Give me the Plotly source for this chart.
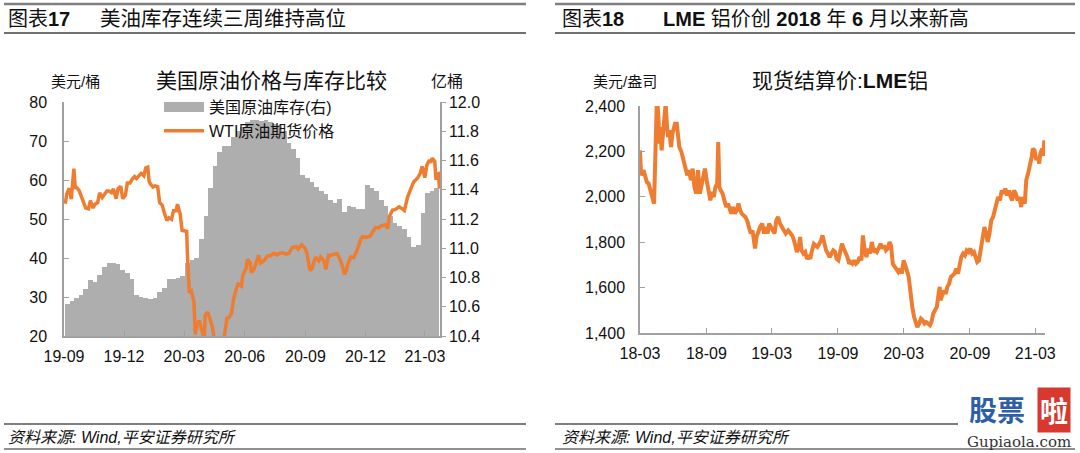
import plotly.graph_objects as go
import pandas as pd

W, H = 1080, 453

# ---------------- Left chart data ----------------
WTI_DATES = [
    "2019-09-03", "2019-09-05", "2019-09-09", "2019-09-12", "2019-09-16", "2019-09-18", "2019-09-20",
    "2019-09-24", "2019-09-26", "2019-09-30", "2019-10-02", "2019-10-04", "2019-10-08", "2019-10-11",
    "2019-10-15", "2019-10-18", "2019-10-22", "2019-10-25", "2019-10-29", "2019-11-01", "2019-11-05",
    "2019-11-08", "2019-11-12", "2019-11-15", "2019-11-19", "2019-11-22", "2019-11-26", "2019-11-29",
    "2019-12-03", "2019-12-06", "2019-12-10", "2019-12-13", "2019-12-17", "2019-12-20", "2019-12-24",
    "2019-12-27", "2019-12-31", "2020-01-03", "2020-01-06", "2020-01-08", "2020-01-10", "2020-01-14",
    "2020-01-17", "2020-01-21", "2020-01-24", "2020-01-28", "2020-01-31", "2020-02-04", "2020-02-07",
    "2020-02-11", "2020-02-14", "2020-02-18", "2020-02-20", "2020-02-24", "2020-02-27", "2020-03-02",
    "2020-03-05", "2020-03-06", "2020-03-09", "2020-03-12", "2020-03-16", "2020-03-18", "2020-03-20",
    "2020-03-24", "2020-03-27", "2020-03-30", "2020-04-01", "2020-04-02", "2020-04-06", "2020-04-08",
    "2020-04-13", "2020-04-15", "2020-04-17", "2020-04-20", "2020-04-22", "2020-04-24", "2020-04-28",
    "2020-05-01", "2020-05-05", "2020-05-08", "2020-05-12", "2020-05-15", "2020-05-19", "2020-05-22",
    "2020-05-27", "2020-05-29", "2020-06-03", "2020-06-05", "2020-06-09", "2020-06-11", "2020-06-15",
    "2020-06-18", "2020-06-22", "2020-06-25", "2020-06-30", "2020-07-06", "2020-07-10", "2020-07-15",
    "2020-07-20", "2020-07-24", "2020-07-29", "2020-08-03", "2020-08-07", "2020-08-12", "2020-08-18",
    "2020-08-21", "2020-08-26", "2020-08-31", "2020-09-03", "2020-09-08", "2020-09-11", "2020-09-16",
    "2020-09-21", "2020-09-24", "2020-09-29", "2020-10-02", "2020-10-06", "2020-10-09", "2020-10-14",
    "2020-10-19", "2020-10-23", "2020-10-28", "2020-10-30", "2020-11-02", "2020-11-05", "2020-11-09",
    "2020-11-13", "2020-11-18", "2020-11-24", "2020-11-27", "2020-12-02", "2020-12-08", "2020-12-11",
    "2020-12-16", "2020-12-21", "2020-12-24", "2020-12-31", "2021-01-04", "2021-01-06", "2021-01-11",
    "2021-01-15", "2021-01-21", "2021-01-26", "2021-01-29", "2021-02-03", "2021-02-08", "2021-02-12",
    "2021-02-18", "2021-02-22", "2021-02-25", "2021-03-01", "2021-03-04", "2021-03-08", "2021-03-10",
    "2021-03-12", "2021-03-16", "2021-03-18", "2021-03-19", "2021-03-22", "2021-03-23",
]
WTI_PRICE = [
    53.9, 56.3, 57.9, 55.1, 62.9, 58.1, 58.1,
    57.3, 56.4, 54.1, 53.6, 52.8, 52.6, 54.7,
    52.8, 53.8, 54.2, 56.7, 55.5, 56.2, 57.2,
    57.2, 56.8, 57.7, 55.2, 57.8, 58.4, 55.2,
    56.1, 59.2, 59.2, 60.1, 60.9, 60.4, 61.1,
    61.7, 61.1, 63.1, 63.3, 59.6, 59.0, 58.2,
    58.5, 58.3, 54.2, 53.5, 51.6, 49.6, 50.3,
    49.9, 52.1, 52.1, 53.8, 51.4, 47.1, 46.8,
    46.8, 41.3, 31.1, 31.5, 28.7, 20.4, 22.4,
    24.0, 21.5, 20.1, 20.3, 25.3, 26.1, 25.1,
    22.4, 19.9, 18.3, -37.6, 13.8, 16.9, 12.3,
    19.8, 24.6, 24.7, 25.8, 29.4, 32.0, 33.3,
    32.8, 35.5, 37.3, 39.6, 38.9, 36.3, 37.1,
    38.8, 40.7, 38.7, 39.3, 40.6, 40.6, 41.2,
    40.8, 41.3, 41.3, 41.0, 41.2, 42.7, 42.9,
    42.3, 43.4, 42.6, 41.4, 36.8, 37.3, 40.2,
    39.3, 40.3, 39.3, 37.1, 40.7, 40.6, 41.0,
    41.1, 39.9, 37.4, 35.8, 36.8, 38.8, 40.3,
    40.1, 41.8, 44.9, 45.5, 45.3, 45.6, 46.6,
    47.8, 47.7, 48.2, 48.5, 47.6, 50.6, 52.3,
    52.4, 53.1, 52.6, 52.2, 55.7, 57.9, 59.5,
    60.5, 61.7, 63.5, 60.6, 63.8, 65.1, 64.4,
    65.6, 64.8, 60.0, 61.4, 61.6, 57.8,
]

INV_FIRST_WEEK = "2019-09-06"
INV_VALUES = [
    10.62, 10.64, 10.66, 10.68, 10.72, 10.78, 10.77, 10.82, 10.87, 10.90,
    10.90, 10.89, 10.85, 10.83, 10.79, 10.68, 10.67, 10.66, 10.65, 10.66,
    10.70, 10.73, 10.79, 10.79, 10.80, 10.81, 10.90, 10.92, 10.93, 11.06,
    11.22, 11.41, 11.56, 11.66, 11.70, 11.70, 11.76, 11.80, 11.83, 11.86,
    11.88, 11.88, 11.87, 11.88, 11.86, 11.85, 11.84, 11.80, 11.72, 11.68,
    11.62, 11.50, 11.48, 11.45, 11.42, 11.39, 11.37, 11.33, 11.31, 11.34,
    11.25, 11.29, 11.28, 11.27, 11.27, 11.43, 11.41, 11.39, 11.33, 11.29,
    11.22, 11.17, 11.15, 11.13, 11.08, 11.01, 11.02, 11.24, 11.38, 11.39,
    11.41,
]
INV_DATES = pd.date_range(INV_FIRST_WEEK, periods=len(INV_VALUES), freq="7D")

LEFT_XTICKS = ["2019-09-01", "2019-12-01", "2020-03-01", "2020-06-01",
               "2020-09-01", "2020-12-01", "2021-03-01"]
LEFT_XLABELS = ["19-09", "19-12", "20-03", "20-06", "20-09", "20-12", "21-03"]
LEFT_Y_TICKS = [20, 30, 40, 50, 60, 70, 80]
RIGHT_Y_TICKS = [10.4, 10.6, 10.8, 11.0, 11.2, 11.4, 11.6, 11.8, 12.0]

# ---------------- Right chart data ----------------
ALU_DATES = [
    "2018-03-01", "2018-03-04", "2018-03-11", "2018-03-16", "2018-03-20", "2018-03-25", "2018-03-30",
    "2018-04-04", "2018-04-09", "2018-04-12", "2018-04-14", "2018-04-17", "2018-04-21", "2018-04-24",
    "2018-04-26", "2018-04-30", "2018-05-03", "2018-05-08", "2018-05-11", "2018-05-15", "2018-05-18",
    "2018-05-21", "2018-05-26", "2018-05-30", "2018-06-02", "2018-06-06", "2018-06-11", "2018-06-14",
    "2018-06-18", "2018-06-24", "2018-06-28", "2018-07-01", "2018-07-06", "2018-07-10", "2018-07-15",
    "2018-07-20", "2018-07-25", "2018-07-30", "2018-08-04", "2018-08-09", "2018-08-14", "2018-08-18",
    "2018-08-23", "2018-08-28", "2018-09-02", "2018-09-07", "2018-09-12", "2018-09-17", "2018-09-22",
    "2018-09-26", "2018-10-01", "2018-10-04", "2018-10-07", "2018-10-11", "2018-10-16", "2018-10-21",
    "2018-10-26", "2018-10-31", "2018-11-04", "2018-11-09", "2018-11-14", "2018-11-19", "2018-11-24",
    "2018-11-29", "2018-12-04", "2018-12-08", "2018-12-18", "2018-12-23", "2018-12-28", "2019-01-02",
    "2019-01-07", "2019-01-12", "2019-01-14", "2019-01-18", "2019-01-23", "2019-01-28", "2019-02-03",
    "2019-02-08", "2019-02-13", "2019-02-18", "2019-02-22", "2019-02-27", "2019-03-04", "2019-03-09",
    "2019-03-14", "2019-03-19", "2019-03-24", "2019-03-29", "2019-04-04", "2019-04-09", "2019-04-16",
    "2019-04-22", "2019-04-27", "2019-05-02", "2019-05-06", "2019-05-10", "2019-05-15", "2019-05-19",
    "2019-05-23", "2019-05-28", "2019-06-02", "2019-06-07", "2019-06-12", "2019-06-16", "2019-06-21",
    "2019-06-26", "2019-07-01", "2019-07-06", "2019-07-11", "2019-07-16", "2019-07-20", "2019-07-25",
    "2019-07-30", "2019-08-04", "2019-08-09", "2019-08-14", "2019-08-19", "2019-08-24", "2019-08-28",
    "2019-09-02", "2019-09-07", "2019-09-12", "2019-09-17", "2019-09-22", "2019-09-27", "2019-10-02",
    "2019-10-06", "2019-10-11", "2019-10-16", "2019-10-21", "2019-10-26", "2019-10-31", "2019-11-05",
    "2019-11-09", "2019-11-14", "2019-11-19", "2019-11-24", "2019-11-29", "2019-12-04", "2019-12-09",
    "2019-12-14", "2019-12-18", "2019-12-23", "2019-12-28", "2020-01-02", "2020-01-07", "2020-01-12",
    "2020-01-17", "2020-01-22", "2020-01-26", "2020-01-31", "2020-02-05", "2020-02-10", "2020-02-15",
    "2020-02-20", "2020-02-25", "2020-03-01", "2020-03-05", "2020-03-10", "2020-03-15", "2020-03-20",
    "2020-03-25", "2020-03-30", "2020-04-04", "2020-04-08", "2020-04-13", "2020-04-18", "2020-04-23",
    "2020-04-28", "2020-05-03", "2020-05-08", "2020-05-13", "2020-05-17", "2020-05-22", "2020-05-27",
    "2020-06-01", "2020-06-06", "2020-06-09", "2020-06-11", "2020-06-16", "2020-06-21", "2020-06-26",
    "2020-06-30", "2020-07-05", "2020-07-10", "2020-07-15", "2020-07-20", "2020-07-25", "2020-07-30",
    "2020-08-04", "2020-08-08", "2020-08-13", "2020-08-18", "2020-08-23", "2020-08-28", "2020-09-02",
    "2020-09-07", "2020-09-12", "2020-09-16", "2020-09-21", "2020-09-26", "2020-10-01", "2020-10-06",
    "2020-10-11", "2020-10-16", "2020-10-20", "2020-10-25", "2020-10-30", "2020-11-04", "2020-11-09",
    "2020-11-14", "2020-11-18", "2020-11-23", "2020-11-28", "2020-12-03", "2020-12-08", "2020-12-13",
    "2020-12-18", "2020-12-23", "2020-12-27", "2021-01-01", "2021-01-06", "2021-01-11", "2021-01-16",
    "2021-01-21", "2021-01-26", "2021-01-31", "2021-02-04", "2021-02-09", "2021-02-14", "2021-02-19",
    "2021-02-22", "2021-02-27", "2021-03-04", "2021-03-08", "2021-03-12", "2021-03-15", "2021-03-20",
    "2021-03-23", "2021-03-26",
]
ALU_PRICE = [
    2205, 2095, 2117, 2087, 2065, 2058, 2028,
    1984, 1970, 2150, 2263, 2440, 2352, 2234,
    2307, 2205, 2263, 2381, 2410, 2307, 2263,
    2293, 2219, 2278, 2293, 2322, 2322, 2280,
    2219, 2197, 2175, 2146, 2117, 2095, 2117,
    2073, 2124, 2043, 2014, 2117, 2014, 2043,
    2073, 2124, 2073, 2014, 1984, 2021, 1999,
    2043, 2058, 2241, 2043, 2028, 2014, 1984,
    1955, 1970, 1948, 1926, 1955, 1926, 1940,
    1970, 1940, 1926, 1911, 1896, 1867, 1838,
    1852, 1808, 1772, 1823, 1852, 1867, 1882,
    1838, 1867, 1838, 1882, 1867, 1852, 1838,
    1896, 1911, 1882, 1867, 1852, 1838, 1852,
    1838, 1830, 1808, 1779, 1757, 1779, 1823,
    1764, 1750, 1757, 1727, 1735, 1727, 1764,
    1793, 1786, 1779, 1793, 1808, 1830, 1786,
    1764, 1750, 1735, 1750, 1764, 1757, 1727,
    1720, 1750, 1793, 1772, 1757, 1735, 1705,
    1713, 1705, 1720, 1705, 1713, 1735, 1720,
    1830, 1764, 1735, 1772, 1750, 1801, 1757,
    1764, 1757, 1779, 1793, 1772, 1786, 1764,
    1772, 1801, 1786, 1705, 1691, 1683, 1669,
    1683, 1662, 1720, 1705, 1676, 1647, 1573,
    1515, 1470, 1441, 1426, 1441, 1463, 1456,
    1441, 1448, 1441, 1434, 1448, 1485, 1500,
    1515, 1573, 1603, 1544, 1573, 1588, 1573,
    1603, 1617, 1647, 1654, 1662, 1683, 1662,
    1705, 1735, 1750, 1742, 1764, 1757, 1772,
    1750, 1757, 1735, 1713, 1720, 1779, 1838,
    1867, 1838, 1801, 1838, 1896, 1911, 1940,
    1970, 1999, 1984, 2028, 2014, 2036, 2006,
    2028, 1999, 1984, 2028, 2014, 1984, 1999,
    1955, 1999, 1970, 2073, 2102, 2131, 2175,
    2212, 2205, 2161, 2175, 2146, 2190, 2212,
    2180, 2249,
]
RIGHT_XTICKS = ["2018-03-01", "2018-09-01", "2019-03-01", "2019-09-01",
                "2020-03-01", "2020-09-01", "2021-03-01"]
RIGHT_XLABELS = ["18-03", "18-09", "19-03", "19-09", "20-03", "20-09", "21-03"]
ALU_Y_TICKS = [1400, 1600, 1800, 2000, 2200, 2400]

# ---------------- Styling ----------------
FONT = "Liberation Sans, Arial, Noto Sans CJK SC, sans-serif"
CJK = "Liberation Sans, Noto Sans CJK SC, sans-serif"
ORANGE = "#EE7D31"
GREY_BAR = "#AEAEAE"
AXIS = "#A0A0A0"


def px(x):
    return x / W


def py(y):
    return 1 - y / H


fig = go.Figure()

fig.add_trace(go.Bar(
    x=INV_DATES, y=INV_VALUES, xaxis="x", yaxis="y",
    marker=dict(color=GREY_BAR, line=dict(width=0)),
    width=7 * 86400000, showlegend=False, hoverinfo="skip",
))
fig.add_trace(go.Scatter(
    x=[None], y=[None], xaxis="x", yaxis="y2", mode="lines",
    line=dict(color=GREY_BAR, width=11), name="美国原油库存(右)",
))
fig.add_trace(go.Scatter(
    x=WTI_DATES, y=WTI_PRICE, xaxis="x", yaxis="y2", mode="lines",
    line=dict(color=ORANGE, width=3.5), name="WTI原油期货价格",
))
fig.add_trace(go.Scatter(
    x=ALU_DATES, y=ALU_PRICE, xaxis="x2", yaxis="y3", mode="lines",
    line=dict(color=ORANGE, width=4), showlegend=False,
))

tickfont = dict(family=FONT, size=16, color="#111111")
axis_common = dict(showgrid=False, zeroline=False, showline=True, automargin=False,
                   linecolor=AXIS, linewidth=1.5, tickcolor=AXIS, tickfont=tickfont)

fig.update_layout(
    width=W, height=H,
    margin=dict(l=0, r=0, t=0, b=0, autoexpand=False),
    paper_bgcolor="white", plot_bgcolor="white",
    bargap=0,
    font=dict(family=CJK, size=14, color="#111111"),
    xaxis=dict(domain=[px(64), px(440)], anchor="y", type="date",
               range=["2019-09-01", "2021-03-24"],
               tickvals=LEFT_XTICKS, ticktext=LEFT_XLABELS,
               ticks="inside", ticklen=5, ticklabelstandoff=5, **axis_common),
    yaxis=dict(domain=[py(336), py(102)], anchor="x", side="right",
               range=[10.4, 12.0], tickvals=RIGHT_Y_TICKS,
               ticktext=[f"{v:.1f}" for v in RIGHT_Y_TICKS],
               ticks="outside", ticklen=4, **axis_common),
    yaxis2=dict(overlaying="y", anchor="x", side="left",
                range=[20, 80], tickvals=LEFT_Y_TICKS,
                ticks="inside", ticklen=5, ticklabelstandoff=12, **axis_common),
    xaxis2=dict(domain=[px(640), px(1045)], anchor="y3", type="date",
                range=["2018-03-01", "2021-03-28"],
                tickvals=RIGHT_XTICKS, ticktext=RIGHT_XLABELS,
                ticks="inside", ticklen=5, ticklabelstandoff=5, **axis_common),
    yaxis3=dict(domain=[py(333), py(106)], anchor="x2",
                range=[1400, 2400], tickvals=ALU_Y_TICKS,
                ticktext=[f"{v:,}" for v in ALU_Y_TICKS],
                ticks="inside", ticklen=5, ticklabelstandoff=10, **axis_common),
    legend=dict(x=px(159), y=py(90), xanchor="left", yanchor="top",
                bgcolor="rgba(0,0,0,0)", borderwidth=0,
                font=dict(family=CJK, size=16, color="#111111"),
                tracegroupgap=0, itemwidth=40),
)

ann = []


def text(x, y, s, size=14, xanchor="left", color="#111111", family=CJK, **kw):
    ann.append(dict(x=px(x), y=py(y), xref="paper", yref="paper", text=s,
                    showarrow=False, xanchor=xanchor, yanchor="middle",
                    font=dict(family=family, size=size, color=color), **kw))


# headers
text(6, 19, "图表<b>17</b>", size=20)
text(98, 19, "美油库存连续三周维持高位", size=20.5)
text(560, 19, "图表<b>18</b>", size=20)
text(661, 19, "<b>LME</b> 铝价创 <b>2018</b> 年 <b>6</b> 月以来新高", size=20)

# chart titles and units
text(271, 80, "美国原油价格与库存比较", size=21, xanchor="center")
text(75, 81, "美元/桶", size=15, xanchor="center")
text(447, 81, "亿桶", size=16, xanchor="center")
text(840, 80, "现货结算价:<b>LME</b>铝", size=21, xanchor="center")
text(625, 81, "美元/盎司", size=15, xanchor="center")

# footers
text(6, 437, "<i>资料来源: Wind,平安证券研究所</i>", size=16)
text(560, 437, "<i>资料来源: Wind,平安证券研究所</i>", size=16)

# watermark
text(997, 409, "<b>股票</b>", size=28, xanchor="center", color="#2F5EA8",
     family="Noto Sans CJK SC, sans-serif")
text(1054, 410, "<b>啦</b>", size=28, xanchor="center", color="white",
     bgcolor="#D8382E", borderpad=2, family="Noto Sans CJK SC, sans-serif")
text(1019, 442, "Gupiaola.com", size=15, xanchor="center", color="#333333",
     family="DejaVu Serif, serif")

fig.update_layout(annotations=ann)

shapes = []


def hline(x0, x1, y, color, width):
    shapes.append(dict(type="line", xref="paper", yref="paper",
                       x0=px(x0), x1=px(x1), y0=py(y), y1=py(y),
                       line=dict(color=color, width=width)))


for x0, x1, xf in [(4, 526, 526), (555, 1075, 958)]:
    hline(x0, x1, 4, "#7F7F7F", 2.5)
    hline(x0, x1, 33, "#404040", 1.5)
    hline(x0, xf, 424, "#7F7F7F", 2)
    hline(x0, x1, 449, "#222222", 1)

fig.update_layout(shapes=shapes)

fig.write_html("out.html")
